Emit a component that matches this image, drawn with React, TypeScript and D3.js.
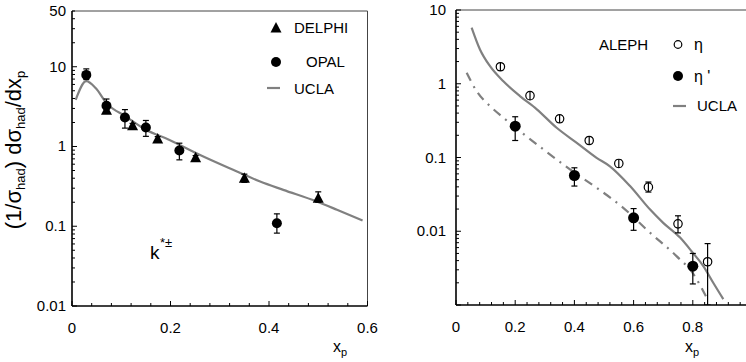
import React from "react";
import * as d3 from "d3";

// ---- Left panel data (K*±) ----
const delphiX = [0.07, 0.123, 0.174, 0.251, 0.35, 0.5];
const delphiY = [2.85, 1.82, 1.24, 0.72, 0.40, 0.225];
const delphiLo = [2.6, 1.7, 1.15, 0.67, 0.355, 0.2];
const delphiHi = [3.1, 1.95, 1.33, 0.77, 0.45, 0.27];

const opalX = [0.029, 0.07, 0.1075, 0.15, 0.218, 0.416];
const opalY = [7.9, 3.24, 2.31, 1.73, 0.89, 0.109];
const opalLo = [6.9, 2.7, 1.7, 1.34, 0.68, 0.082];
const opalHi = [9.4, 3.94, 2.9, 2.12, 1.1, 0.143];

const uclaLeftX = [0.0075, 0.029, 0.048, 0.07, 0.109, 0.15, 0.198, 0.259, 0.327, 0.382, 0.429, 0.497, 0.538, 0.59];
const uclaLeftY = [3.85, 6.6, 5.4, 3.5, 2.38, 1.62, 1.21, 0.787, 0.51, 0.364, 0.286, 0.204, 0.161, 0.118];

// ---- Right panel data (ALEPH eta, eta') ----
const etaX = [0.15, 0.25, 0.35, 0.45, 0.55, 0.65, 0.75, 0.85];
const etaY = [1.7, 0.69, 0.335, 0.17, 0.083, 0.0396, 0.0126, 0.00386];
const etaLo = [1.55, 0.63, 0.305, 0.155, 0.075, 0.034, 0.0095, 0.0005];
const etaHi = [1.86, 0.76, 0.37, 0.187, 0.092, 0.0465, 0.0162, 0.0068];

const etapX = [0.2, 0.4, 0.6, 0.8];
const etapY = [0.266, 0.057, 0.0152, 0.00336];
const etapLo = [0.17, 0.041, 0.0103, 0.00193];
const etapHi = [0.357, 0.0725, 0.0203, 0.005];

const uclaEtaX = [0.053, 0.081, 0.115, 0.16, 0.216, 0.273, 0.34, 0.408, 0.475, 0.52, 0.588, 0.655, 0.7, 0.757, 0.8, 0.835, 0.869, 0.903];
const uclaEtaY = [5.75, 2.92, 1.73, 1.08, 0.68, 0.45, 0.253, 0.158, 0.099, 0.076, 0.041, 0.0198, 0.013, 0.0082, 0.0051, 0.0034, 0.002, 0.0012];

const uclaEtapX = [0.036, 0.07, 0.115, 0.16, 0.216, 0.295, 0.385, 0.475, 0.565, 0.655, 0.745, 0.80, 0.847];
const uclaEtapY = [1.41, 0.79, 0.497, 0.346, 0.228, 0.129, 0.0689, 0.0389, 0.0208, 0.0096, 0.0046, 0.0027, 0.00125];

const leftYLabels = ["0.01", "0.1", "1", "10", "50"];
const leftYTicks = [0.01, 0.1, 1, 10, 50];
const leftXTicks = [0, 0.2, 0.4, 0.6];
const rightYLabels = ["0.01", "0.1", "1", "10"];
const rightYTicks = [0.01, 0.1, 1, 10];
const rightXTicks = [0, 0.2, 0.4, 0.6, 0.8];

const FONT = "'Liberation Sans', Arial, sans-serif";
const GRAY = "#808080";

function minorLogTicks(lo: number, hi: number) {
  const out: number[] = [];
  for (let e = Math.floor(Math.log10(lo)); e <= Math.ceil(Math.log10(hi)); e++) {
    for (let m = 1; m <= 9; m++) {
      const v = m * Math.pow(10, e);
      if (v >= lo * 0.999 && v <= hi * 1.001) out.push(v);
    }
  }
  return out;
}

function Panel(props: any) {
  const { x, y, xMax, xTicks, yTicks, yLabels, yLo, yHi, frameRight, children, labelX } = props;
  const [x0] = x.range();
  const [yb, yt] = y.range();
  const minorX: number[] = [];
  for (let i = 0; i * 0.04 <= xMax + 1e-9; i++) minorX.push(+(i * 0.04).toFixed(2));
  const minorY = minorLogTicks(yLo, yHi);
  return (
    <g>
      <line x1={x0} x2={frameRight} y1={yt} y2={yt} stroke="#444" strokeWidth={1} />
      <line x1={frameRight} x2={frameRight} y1={yt} y2={yb} stroke="#444" strokeWidth={1} />
      {children}
      <line x1={x0} x2={frameRight} y1={yb} y2={yb} stroke="#000" strokeWidth={1.6} />
      <line x1={x0} x2={x0} y1={yt} y2={yb} stroke="#000" strokeWidth={1.6} />
      {minorX.map((t, i) => (
        <line key={"mx" + i} x1={x(t)} x2={x(t)} y1={yb} y2={yb - (i % 5 === 0 ? 5 : 3)} stroke="#000" strokeWidth={1} />
      ))}
      {minorY.map((t, i) => {
        const major = Math.abs(Math.log10(t) - Math.round(Math.log10(t))) < 1e-6;
        return <line key={"my" + i} x1={x0} x2={x0 + (major ? 5 : 3)} y1={y(t)} y2={y(t)} stroke="#000" strokeWidth={1} />;
      })}
      {xTicks.map((t: number) => (
        <text key={"xt" + t} x={x(t)} y={yb + 27} textAnchor="middle" fontSize={15} fontFamily={FONT}>{String(t)}</text>
      ))}
      {yTicks.map((t: number, i: number) => (
        <text key={"yt" + t} x={labelX} y={y(t) + 5} textAnchor="end" fontSize={15} fontFamily={FONT}>{yLabels[i]}</text>
      ))}
    </g>
  );
}

function ErrBar({ cx, lo, hi }: { cx: number; lo: number; hi: number }) {
  return (
    <g stroke="#000" strokeWidth={1.2}>
      <line x1={cx} x2={cx} y1={lo} y2={hi} />
      <line x1={cx - 3} x2={cx + 3} y1={lo} y2={lo} />
      <line x1={cx - 3} x2={cx + 3} y1={hi} y2={hi} />
    </g>
  );
}

function tri(cx: number, cy: number, s: number) {
  return `M${cx},${cy - s * 0.6} L${cx + s * 0.55},${cy + s * 0.45} L${cx - s * 0.55},${cy + s * 0.45} Z`;
}

export default function App() {
  const lx = d3.scaleLinear().domain([0, 0.6]).range([72, 367.5]);
  const ly = d3.scaleLog().domain([0.01, 50]).range([306, 11]);
  const rx = d3.scaleLinear().domain([0, 1]).range([456, 752]);
  const ry = d3.scaleLog().domain([0.001, 10]).range([305, 10]);

  const leftLine = d3.line<number>().x((_, i) => lx(uclaLeftX[i])).y((d) => ly(d)).curve(d3.curveMonotoneX);
  const etaLine = d3.line<number>().x((_, i) => rx(uclaEtaX[i])).y((d) => ry(d)).curve(d3.curveMonotoneX);
  const etapLine = d3.line<number>().x((_, i) => rx(uclaEtapX[i])).y((d) => ry(d)).curve(d3.curveMonotoneX);

  return (
    <svg width={746} height={362} style={{ display: "block", position: "absolute", left: 0, top: 0, background: "#fff" }}>
      <rect width={746} height={362} fill="#fff" />
      <defs>
        <clipPath id="clipR"><rect x={456} y={10} width={300} height={295} /></clipPath>
      </defs>
      {/* Left panel */}
      <Panel x={lx} y={ly} xMax={0.6} xTicks={leftXTicks} yTicks={leftYTicks} yLabels={leftYLabels} yLo={0.01} yHi={50} frameRight={367.5} labelX={66}>
        <path d={leftLine(uclaLeftY) || ""} fill="none" stroke={GRAY} strokeWidth={2.2} />
        {delphiX.map((d, i) => (
          <g key={"dl" + i}>
            <ErrBar cx={lx(d)} lo={ly(delphiLo[i])} hi={ly(delphiHi[i])} />
            <path d={tri(lx(d), ly(delphiY[i]), 10)} fill="#000" />
          </g>
        ))}
        {opalX.map((d, i) => (
          <g key={"op" + i}>
            <ErrBar cx={lx(d)} lo={ly(opalLo[i])} hi={ly(opalHi[i])} />
            <circle cx={lx(d)} cy={ly(opalY[i])} r={5} fill="#000" />
          </g>
        ))}
      </Panel>
      {/* left legend */}
      <path d={tri(276, 28, 10)} fill="#000" />
      <text x={294} y={33} fontSize={15} fontFamily={FONT}>DELPHI</text>
      <circle cx={276} cy={62} r={5} fill="#000" />
      <text x={306} y={67} fontSize={15} fontFamily={FONT}>OPAL</text>
      <line x1={267} x2={280} y1={88} y2={88} stroke={GRAY} strokeWidth={2.2} />
      <text x={294} y={94} fontSize={15} fontFamily={FONT}>UCLA</text>
      <text x={150} y={259} fontSize={19} fontFamily={FONT}>k</text>
      <text x={160} y={247} fontSize={13} fontFamily={FONT}>*±</text>
      {/* y title */}
      <text transform="translate(21,150) rotate(-90)" textAnchor="middle" fontSize={22} fontFamily={FONT}>
        (1/σ<tspan fontSize={13} dy={4}>had</tspan><tspan dy={-4}>) dσ</tspan><tspan fontSize={13} dy={4}>had</tspan><tspan dy={-4}>/dx</tspan><tspan fontSize={13} dy={4}>p</tspan>
      </text>
      <text x={333} y={352} fontSize={16} fontFamily={FONT}>x<tspan fontSize={11} dy={4}>p</tspan></text>

      {/* Right panel */}
      <Panel x={rx} y={ry} xMax={0.96} xTicks={rightXTicks} yTicks={rightYTicks} yLabels={rightYLabels} yLo={0.001} yHi={10} frameRight={760} labelX={446}>
        <g clipPath="url(#clipR)">
          <path d={etaLine(uclaEtaY) || ""} fill="none" stroke={GRAY} strokeWidth={2.2} />
          <path d={etapLine(uclaEtapY) || ""} fill="none" stroke={GRAY} strokeWidth={2.2} strokeDasharray="9,6,2,6" />
          {etaX.map((d, i) => (
            <g key={"eta" + i}>
              <ErrBar cx={rx(d)} lo={Math.min(ry(etaLo[i]), 305)} hi={ry(etaHi[i])} />
              <circle cx={rx(d)} cy={ry(etaY[i])} r={4.2} fill="#fff" stroke="#000" strokeWidth={1.2} />
              <line x1={rx(d)} x2={rx(d)} y1={ry(etaY[i]) - 4.2} y2={ry(etaY[i]) + 4.2} stroke="#000" strokeWidth={1.2} />
            </g>
          ))}
          {etapX.map((d, i) => (
            <g key={"etp" + i}>
              <ErrBar cx={rx(d)} lo={ry(etapLo[i])} hi={ry(etapHi[i])} />
              <circle cx={rx(d)} cy={ry(etapY[i])} r={5.5} fill="#000" />
            </g>
          ))}
        </g>
      </Panel>
      {/* right legend */}
      <text x={599} y={50} fontSize={15} fontFamily={FONT}>ALEPH</text>
      <circle cx={678} cy={44.5} r={3.8} fill="#fff" stroke="#000" strokeWidth={1.2} />
      <text x={694} y={50} fontSize={16} fontFamily={FONT}>η</text>
      <circle cx={678} cy={76} r={5} fill="#000" />
      <text x={694} y={82} fontSize={16} fontFamily={FONT}>η '</text>
      <line x1={673} x2={686} y1={106} y2={106} stroke={GRAY} strokeWidth={2.2} />
      <text x={697} y={111} fontSize={15} fontFamily={FONT}>UCLA</text>
      <text x={685} y={352} fontSize={16} fontFamily={FONT}>x<tspan fontSize={11} dy={4}>p</tspan></text>
    </svg>
  );
}
